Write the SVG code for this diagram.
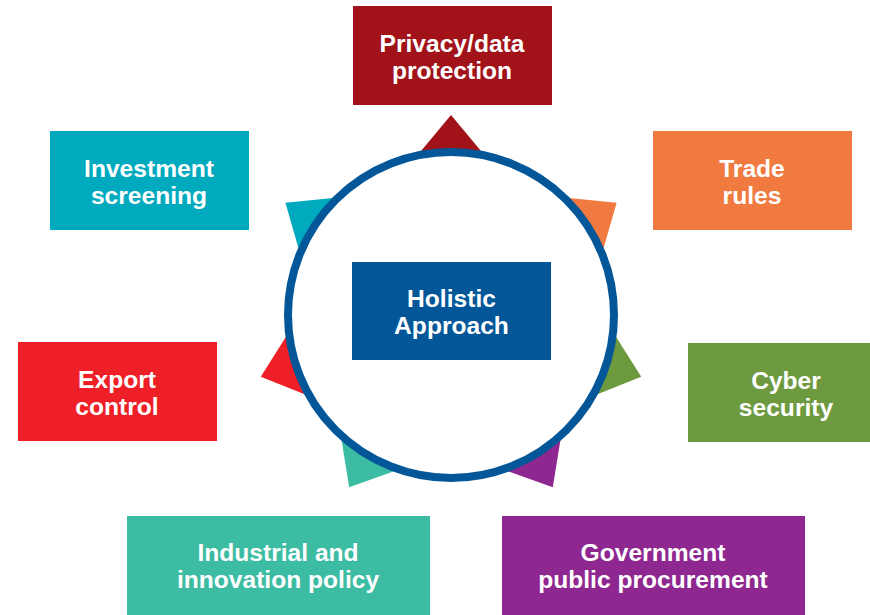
<svg xmlns="http://www.w3.org/2000/svg" width="870" height="615" viewBox="0 0 870 615">
  <style>
    .lbl { font-family: "Liberation Sans", Arial, sans-serif; font-weight: bold; font-size: 24.6px; fill: #ffffff; text-anchor: middle; }
  </style>
  <defs>
    <polygon id="tri" points="0,-200 50,-140 -50,-140"/>
  </defs>
  <rect x="0" y="0" width="870" height="615" fill="#ffffff"/>
  <g id="connectors" transform="translate(451,315)">
    <use href="#tri" fill="#A11219"/>
    <use href="#tri" fill="#00AABE" transform="rotate(-55.9)"/>
    <use href="#tri" fill="#F07A3F" transform="rotate(55.9)"/>
    <use href="#tri" fill="#EE1F26" transform="rotate(-108)"/>
    <use href="#tri" fill="#6E9A3F" transform="rotate(108)"/>
    <use href="#tri" fill="#3BBCA3" transform="rotate(-149.4)"/>
    <use href="#tri" fill="#8E278F" transform="rotate(149.4)"/>
  </g>
  <g id="ring">
    <circle cx="451" cy="315" r="163" fill="#ffffff" stroke="#035799" stroke-width="8"/>
  </g>
  <g id="holistic">
    <rect x="352" y="262" width="199" height="98" fill="#035799"/>
    <text class="lbl" x="451.5" y="307">Holistic</text>
    <text class="lbl" x="451.5" y="334">Approach</text>
  </g>
  <g id="privacy">
    <rect x="353" y="6" width="199" height="99" fill="#A11219"/>
    <text class="lbl" x="452" y="51.5">Privacy/data</text>
    <text class="lbl" x="452" y="79">protection</text>
  </g>
  <g id="investment">
    <rect x="50" y="131" width="199" height="99" fill="#00AABE"/>
    <text class="lbl" x="149" y="176.5">Investment</text>
    <text class="lbl" x="149" y="204">screening</text>
  </g>
  <g id="trade">
    <rect x="653" y="131" width="199" height="99" fill="#F07A3F"/>
    <text class="lbl" x="752" y="176.5">Trade</text>
    <text class="lbl" x="752" y="204">rules</text>
  </g>
  <g id="export">
    <rect x="18" y="342" width="199" height="99" fill="#EE1F26"/>
    <text class="lbl" x="117" y="387.5">Export</text>
    <text class="lbl" x="117" y="415">control</text>
  </g>
  <g id="cyber">
    <rect x="688" y="343" width="199" height="99" fill="#6E9A3F"/>
    <text class="lbl" x="786" y="388.5">Cyber</text>
    <text class="lbl" x="786" y="416">security</text>
  </g>
  <g id="industrial">
    <rect x="127" y="516" width="303" height="99" fill="#3BBCA3"/>
    <text class="lbl" x="278" y="561">Industrial and</text>
    <text class="lbl" x="278" y="588">innovation policy</text>
  </g>
  <g id="government">
    <rect x="502" y="516" width="303" height="99" fill="#8E278F"/>
    <text class="lbl" x="653" y="561">Government</text>
    <text class="lbl" x="653" y="588">public procurement</text>
  </g>
</svg>
